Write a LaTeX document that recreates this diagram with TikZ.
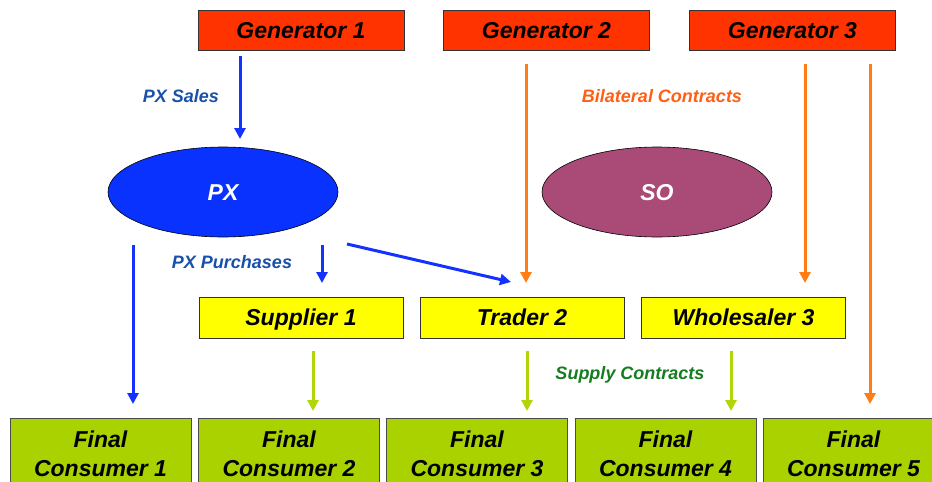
\documentclass[tikz,border=0pt]{standalone}
\usepackage{fontspec}
\setmainfont{Liberation Sans}
\usetikzlibrary{arrows.meta,shapes.geometric}
\definecolor{genred}{RGB}{255,51,0}
\definecolor{boxyellow}{RGB}{255,255,0}
\definecolor{boxgreen}{RGB}{170,210,0}
\definecolor{pxblue}{RGB}{10,50,255}
\definecolor{sopurple}{RGB}{170,74,118}
\definecolor{arrblue}{RGB}{20,50,255}
\definecolor{arrorange}{RGB}{255,125,20}
\definecolor{arrgreen}{RGB}{176,214,10}
\definecolor{lblblue}{RGB}{25,80,170}
\definecolor{lblorange}{RGB}{255,95,20}
\definecolor{lblgreen}{RGB}{20,125,30}
\tikzset{
  bigtxt/.style={font=\fontsize{23}{29}\selectfont\bfseries\itshape},
  onel/.style={text height=16.5pt, text depth=0pt},
  lbl/.style={font=\fontsize{18}{22}\selectfont\bfseries\itshape, text height=13pt, text depth=0pt},
  genbox/.style={bigtxt, onel, draw=black!80, line width=0.8pt, fill=genred, minimum width=206pt, minimum height=40pt, inner sep=0pt},
  midbox/.style={bigtxt, onel, draw=black!80, line width=0.8pt, fill=boxyellow, minimum width=204pt, minimum height=41pt, inner sep=0pt},
  fcbox/.style={bigtxt, draw=black!70, line width=0.8pt, fill=boxgreen, minimum width=181pt, minimum height=72pt, inner sep=0pt, align=center},
  ellnode/.style={ellipse, draw=black, line width=0.6pt, minimum width=230pt, minimum height=90pt, inner sep=0pt, text=white, bigtxt, onel},
  arr/.style={line width=3pt, -{Triangle[width=11pt,length=11pt]}},
  bluearr/.style={arr, draw=arrblue},
  orangearr/.style={arr, draw=arrorange},
  greenarr/.style={arr, draw=arrgreen},
}
\begin{document}
\begin{tikzpicture}[x=1pt,y=-1pt]
\useasboundingbox (0,0) rectangle (932,482);
\clip (0,0) rectangle (932,482);
% top row
\node[genbox] (g1) at (301,30.5) {Generator 1};
\node[genbox] (g2) at (546.5,30.5) {Generator 2};
\node[genbox] (g3) at (792.5,30.5) {Generator 3};
% ellipses
\node[ellnode, fill=pxblue] (px) at (223,192) {PX};
\node[ellnode, fill=sopurple] (so) at (657,192) {SO};
% middle row
\node[midbox] (s1) at (301,317.5) {Supplier 1};
\node[midbox] (t2) at (522,317.5) {Trader 2};
\node[midbox] (w3) at (743.5,317.5) {Wholesaler 3};
% bottom row
\node[fcbox] (f1) at (100.5,454) {Final\\Consumer 1};
\node[fcbox] (f2) at (289,454) {Final\\Consumer 2};
\node[fcbox] (f3) at (477,454) {Final\\Consumer 3};
\node[fcbox] (f4) at (665.5,454) {Final\\Consumer 4};
\node[fcbox] (f5) at (853.5,454) {Final\\Consumer 5};
% labels
\node[lbl, text=lblblue] (lps) at (181,96) {PX Sales};
\node[lbl, text=lblorange] (lbc) at (662,96) {Bilateral Contracts};
\node[lbl, text=lblblue] (lpp) at (232,262) {PX Purchases};
\node[lbl, text=lblgreen] (lsc) at (630,373) {Supply Contracts};
% arrow end points
\coordinate (a1s) at (240,56);   \coordinate (a1e) at (240,139);
\coordinate (a2s) at (526,64);   \coordinate (a2e) at (526,283);
\coordinate (a3s) at (805,64);   \coordinate (a3e) at (805,283);
\coordinate (a4s) at (870,64);   \coordinate (a4e) at (870,404);
\coordinate (b1s) at (133,245);  \coordinate (b1e) at (133,404);
\coordinate (b2s) at (322,245);  \coordinate (b2e) at (322,283);
\coordinate (b3s) at (347,244);  \coordinate (b3e) at (511,282);
\coordinate (c1s) at (313,351);  \coordinate (c1e) at (313,411);
\coordinate (c2s) at (527,351);  \coordinate (c2e) at (527,411);
\coordinate (c3s) at (731,351);  \coordinate (c3e) at (731,411);
% arrows
\draw[bluearr] (a1s) -- (a1e);
\draw[orangearr] (a2s) -- (a2e);
\draw[orangearr] (a3s) -- (a3e);
\draw[orangearr] (a4s) -- (a4e);
\draw[bluearr] (b1s) -- (b1e);
\draw[bluearr] (b2s) -- (b2e);
\draw[bluearr] (b3s) -- (b3e);
\draw[greenarr] (c1s) -- (c1e);
\draw[greenarr] (c2s) -- (c2e);
\draw[greenarr] (c3s) -- (c3e);
\end{tikzpicture}
\end{document}
